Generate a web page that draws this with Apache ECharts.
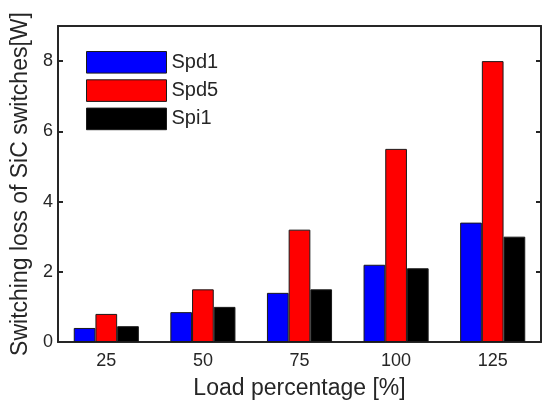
<!DOCTYPE html>
<html><head><meta charset="utf-8">
<script src="https://cdn.jsdelivr.net/npm/echarts@6/dist/echarts.min.js"></script>
<style>html,body{margin:0;padding:0;background:#fff}#c{width:542px;height:407px}</style>
</head><body><div id="c"></div>
<script>
var categories = ['25', '50', '75', '100', '125'];
var spd1 = [0.4, 0.85, 1.4, 2.2, 3.4];
var spd5 = [0.8, 1.5, 3.2, 5.5, 8.0];
var spi1 = [0.45, 1.0, 1.5, 2.1, 3.0];
var seriesNames = ['Spd1', 'Spd5', 'Spi1'];
var colors = ['#0000ff', '#ff0000', '#000000'];

var chart = echarts.init(document.getElementById('c'), null, {renderer: 'canvas'});
var axisColor = '#262626';
var font = 'Liberation Sans, Arial, sans-serif';
function mkSeries(name, data, color) {
  return {
    name: name, type: 'bar', data: data, barWidth: 21.7, barGap: '0%',
    itemStyle: {color: color, borderColor: '#1a1a1a', borderWidth: 1}
  };
}
chart.setOption({
  animation: false,
  textStyle: {fontFamily: font},
  grid: {left: 58, right: 1, top: 26, bottom: 65, containLabel: false},
  legend: {
    orient: 'vertical', left: 81, top: 46, itemWidth: 80, itemHeight: 21.6, itemGap: 5.7,
    icon: 'rect',
    data: seriesNames,
    textStyle: {fontFamily: font, fontSize: 20, lineHeight: 21, color: '#262626'},
    itemStyle: {borderColor: '#1a1a1a', borderWidth: 1}
  },
  xAxis: [{
    type: 'category', data: categories, position: 'bottom',
    name: 'Load percentage [%]', nameLocation: 'middle', nameGap: 35,
    nameTextStyle: {fontFamily: font, fontSize: 23, color: '#262626'},
    axisLine: {onZero: false, lineStyle: {color: axisColor, width: 2}},
    axisTick: {inside: true, alignWithLabel: true, length: 5, lineStyle: {color: axisColor, width: 2}},
    axisLabel: {fontFamily: font, fontSize: 18, color: '#262626', margin: 10}
  }, {
    type: 'category', data: categories, position: 'top',
    axisLine: {onZero: false, lineStyle: {color: axisColor, width: 2}},
    axisTick: {inside: true, alignWithLabel: true, length: 5, lineStyle: {color: axisColor, width: 2}},
    axisLabel: {show: false}
  }],
  yAxis: [{
    type: 'value', min: 0, max: 9, interval: 2, position: 'left',
    name: 'Switching loss of SiC switches[W]', nameLocation: 'middle', nameGap: 21,
    nameTextStyle: {fontFamily: font, fontSize: 23, color: '#262626'},
    axisLine: {show: true, onZero: false, lineStyle: {color: axisColor, width: 2}},
    axisTick: {show: true, inside: true, length: 5, lineStyle: {color: axisColor, width: 2}},
    axisLabel: {fontFamily: font, fontSize: 18, color: '#262626', margin: 5, showMaxLabel: false},
    splitLine: {show: false}
  }, {
    type: 'value', min: 0, max: 9, interval: 2, position: 'right',
    axisLine: {show: true, onZero: false, lineStyle: {color: axisColor, width: 2}},
    axisTick: {show: true, inside: true, length: 5, lineStyle: {color: axisColor, width: 2}},
    axisLabel: {show: false},
    splitLine: {show: false}
  }],
  series: [
    mkSeries(seriesNames[0], spd1, colors[0]),
    mkSeries(seriesNames[1], spd5, colors[1]),
    mkSeries(seriesNames[2], spi1, colors[2])
  ]
});
</script></body></html>
